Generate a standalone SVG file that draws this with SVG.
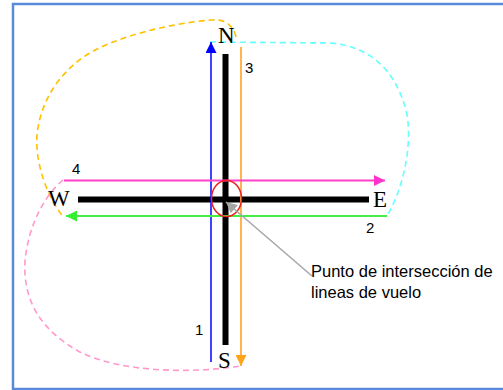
<svg xmlns="http://www.w3.org/2000/svg" width="503" height="390" viewBox="0 0 503 390">
<style>
.dash{fill:none;stroke-width:1.6;stroke-dasharray:6 4}
.card{font-family:"Liberation Serif",serif;font-size:23px;fill:#000}
.num{font-family:"Liberation Sans",Arial,sans-serif;font-size:15px;fill:#000}
.lbl{font-family:"Liberation Sans",Arial,sans-serif;font-size:16.5px;fill:#000}
.bar{stroke:#000;stroke-width:6;fill:none}
</style>
<defs>
<marker id="aBlue" viewBox="0 0 12 12" refX="12" refY="6" markerWidth="12" markerHeight="11" markerUnits="userSpaceOnUse" orient="auto"><path d="M0,0 L12,6 L0,12 z" fill="#0000ff"/></marker>
<marker id="aOrange" viewBox="0 0 12 12" refX="12" refY="6" markerWidth="12" markerHeight="11" markerUnits="userSpaceOnUse" orient="auto"><path d="M0,0 L12,6 L0,12 z" fill="#ffa31a"/></marker>
<marker id="aPink" viewBox="0 0 12 12" refX="12" refY="6" markerWidth="12" markerHeight="11" markerUnits="userSpaceOnUse" orient="auto"><path d="M0,0 L12,6 L0,12 z" fill="#ff33cc"/></marker>
<marker id="aGreen" viewBox="0 0 12 12" refX="12" refY="6" markerWidth="12" markerHeight="11" markerUnits="userSpaceOnUse" orient="auto"><path d="M0,0 L12,6 L0,12 z" fill="#33ee33"/></marker>
<marker id="aGray" viewBox="0 0 12 12" refX="12" refY="6" markerWidth="14" markerHeight="11" markerUnits="userSpaceOnUse" orient="auto"><path d="M0,0 L12,6 L0,12 z" fill="#a6a6a6"/></marker>
</defs>
<rect x="0" y="0" width="503" height="390" fill="#fff"/>
<rect id="frame" x="13" y="4" width="540" height="385" fill="none" stroke="#5b8bd8" stroke-width="2.5"/>
<g id="cross">
<line class="bar" x1="225.5" y1="54" x2="225.5" y2="345"/>
<line class="bar" x1="78" y1="199.5" x2="369" y2="199.5"/>
</g>
<g id="connectors">
<path class="dash" stroke="#ffc000" d="M236,37 C233,25 225,19 212,20 C170,23 110,38 82,58 C55,78 40,105 37,135 C35,165 48,198 64,218"/>
<path class="dash" stroke="#66ffff" d="M210,42 L330,43 C370,46 395,70 406,110 C413,140 405,185 387,216"/>
<path class="dash" stroke="#ff99cc" d="M63,180 C45,195 28,225 25,262 C23,300 40,330 80,352 C120,372 190,374 240,366"/>
<line x1="211" y1="362" x2="211" y2="42" stroke="#0000ff" stroke-width="1.5" marker-end="url(#aBlue)"/>
<line x1="241" y1="47" x2="241" y2="366" stroke="#ffb44d" stroke-width="2" marker-end="url(#aOrange)"/>
<line x1="64" y1="180.5" x2="385" y2="180.5" stroke="#ff40c8" stroke-width="2" marker-end="url(#aPink)"/>
<line x1="387" y1="216" x2="66" y2="216" stroke="#44ee44" stroke-width="2" marker-end="url(#aGreen)"/>
<ellipse cx="226.5" cy="198.5" rx="15" ry="18" fill="none" stroke="#ee2222" stroke-width="1.5"/>
<line x1="312" y1="276" x2="226" y2="202" stroke="#a6a6a6" stroke-width="1.5" marker-end="url(#aGray)"/>
</g>
<g id="N"><text class="card" x="218" y="43">N</text></g>
<g id="W"><text class="card" x="48" y="206">W</text></g>
<g id="E"><text class="card" x="373" y="207">E</text></g>
<g id="S"><text class="card" x="218" y="368">S</text></g>
<g id="n1"><text class="num" x="195" y="335">1</text></g>
<g id="n2"><text class="num" x="366" y="233">2</text></g>
<g id="n3"><text class="num" x="245" y="73">3</text></g>
<g id="n4"><text class="num" x="72" y="174">4</text></g>
<g id="label"><text class="lbl" x="311" y="277">Punto de intersección de</text><text class="lbl" x="311" y="298">lineas de vuelo</text></g>
</svg>
